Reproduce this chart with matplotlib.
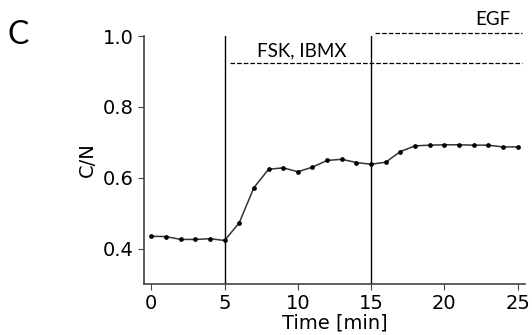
import matplotlib
matplotlib.use('Agg')
import matplotlib.pyplot as plt

# datos
time_min = list(range(26))
cn_ratio = [0.435, 0.434, 0.426, 0.426, 0.428, 0.423, 0.473, 0.572, 0.624, 0.628,
            0.617, 0.630, 0.649, 0.652, 0.643, 0.638, 0.644, 0.674, 0.690, 0.692,
            0.693, 0.693, 0.692, 0.692, 0.687, 0.687]
stim_times = [5, 15]
fsk_level = 0.923
egf_level = 1.008

fig = plt.figure(figsize=(5.32, 3.35), dpi=100)
ax = fig.add_axes([0.2707, 0.152, 0.716, 0.7405])

ax.plot(time_min, cn_ratio, color='#333333', lw=1.1, marker='o', ms=2.4,
        mfc='black', mec='black')

for t in stim_times:
    ax.axvline(t, color='black', lw=1.0)

# lineas de tratamiento
ax.plot([5.35, 25.3], [fsk_level, fsk_level], ls='--', color='black', lw=0.9, clip_on=False)
ax.plot([15.25, 25.3], [egf_level, egf_level], ls='--', color='black', lw=0.9, clip_on=False)
ax.text(10.25, 0.935, 'FSK, IBMX', ha='center', va='bottom', fontsize=13.5, family='Lato')
ax.text(23.3, 1.023, 'EGF', ha='center', va='bottom', fontsize=13.5, family='Lato')

ax.set_xlim(-0.5, 25.5)
ax.set_ylim(0.3, 1.0)
ax.set_xticks([0, 5, 10, 15, 20, 25])
ax.set_yticks([0.4, 0.6, 0.8, 1.0])
ax.tick_params(labelsize=14, length=4, color='#444444')
ax.set_xlabel('Time [min]', fontsize=14, labelpad=0)
ax.set_ylabel('C/N', fontsize=14)
ax.spines['top'].set_visible(False)
ax.spines['right'].set_visible(False)
for s in ['left', 'bottom']:
    ax.spines[s].set_color('#444444')
    ax.spines[s].set_linewidth(1.2)

fig.text(0.015, 0.87, 'C', fontsize=23, family='Lato')

fig.savefig('out.png', dpi=100)
plt.close()
